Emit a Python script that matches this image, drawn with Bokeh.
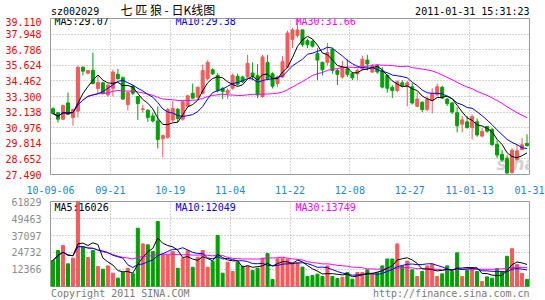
import numpy as np
import pandas as pd
from bokeh.plotting import figure
from bokeh.layouts import column
from bokeh.models import ColumnDataSource, Range1d, FixedTicker, Label, NumeralTickFormatter
from bokeh.embed import file_html
from bokeh.resources import INLINE

# ---------------- data ----------------
open_ = [32.38, 32.09, 31.61, 32.82, 31.73, 32.21, 35.48, 35.04, 35.24, 33.90,
         34.32, 33.42, 33.91, 34.95, 34.70, 32.70, 34.08, 33.30, 32.33, 32.28,
         31.85, 31.48, 30.15, 30.27, 31.55, 32.35, 31.61, 32.57, 33.54, 33.25,
         33.54, 34.63, 35.29, 34.87, 33.91, 33.54, 33.91, 34.80, 34.75, 34.75,
         35.05, 34.87, 33.30, 35.84, 34.99, 34.27, 34.75, 35.48, 37.54, 37.85,
         38.26, 37.46, 37.41, 36.49, 35.84, 35.84, 36.81, 35.24, 34.75, 35.36,
         35.00, 34.99, 35.36, 36.01, 35.12, 35.60, 35.20, 34.87, 33.98, 33.74,
         34.32, 34.03, 34.03, 32.57, 32.87, 32.33, 33.00, 33.42, 33.98, 33.11,
         32.82, 32.09, 31.24, 31.41, 31.00, 31.41, 30.35, 31.07, 30.84, 29.73,
         28.99, 28.70, 27.64, 28.61, 29.34, 29.80]
high = [32.50, 32.15, 32.70, 33.60, 32.40, 35.55, 35.55, 35.25, 36.57, 34.87,
        34.40, 34.20, 35.30, 35.36, 34.80, 33.65, 34.15, 33.35, 32.70, 32.35,
        32.09, 32.57, 30.45, 32.45, 32.95, 32.45, 33.00, 33.42, 34.27, 34.05,
        35.68, 36.00, 35.40, 35.05, 34.00, 33.90, 35.00, 35.00, 34.85, 36.40,
        35.84, 35.70, 36.40, 36.40, 35.10, 34.85, 36.30, 38.20, 38.40, 39.11,
        38.30, 37.60, 37.50, 36.90, 35.90, 37.29, 36.93, 35.36, 35.96, 36.08,
        35.12, 35.36, 36.33, 36.40, 35.72, 35.70, 35.48, 34.95, 34.15, 34.50,
        34.51, 34.45, 34.30, 33.66, 32.95, 33.30, 33.91, 34.27, 34.10, 33.20,
        32.90, 32.50, 31.85, 31.85, 31.97, 31.66, 30.95, 31.12, 30.95, 30.03,
        29.31, 28.94, 29.45, 29.68, 30.20, 30.49]
low = [31.95, 31.36, 31.55, 31.90, 31.12, 31.73, 34.87, 34.95, 34.20, 33.54,
       33.45, 33.30, 33.30, 34.55, 33.05, 32.26, 33.40, 31.56, 32.09, 31.41,
       31.36, 29.43, 28.77, 30.15, 31.40, 31.40, 31.50, 32.50, 33.10, 33.15,
       33.45, 34.50, 34.90, 33.60, 33.11, 33.11, 33.80, 34.10, 34.30, 34.70,
       34.51, 33.18, 33.20, 34.50, 33.90, 34.00, 34.70, 35.40, 36.90, 37.70,
       37.00, 36.90, 36.95, 34.50, 34.87, 35.60, 35.00, 34.15, 34.63, 34.75,
       34.51, 34.51, 35.24, 35.24, 35.05, 35.00, 33.90, 33.59, 33.18, 33.60,
       34.00, 32.57, 32.70, 32.50, 32.14, 32.20, 32.04, 33.35, 33.10, 32.60,
       32.00, 30.63, 30.63, 30.90, 30.10, 30.30, 30.25, 30.60, 29.60, 28.70,
       28.45, 27.54, 27.55, 28.50, 29.30, 29.55]
close = [32.04, 31.61, 32.62, 31.97, 32.33, 35.48, 35.19, 35.24, 34.27, 34.35,
         33.54, 34.15, 35.12, 34.63, 33.11, 33.59, 33.54, 32.77, 32.38, 31.73,
         31.48, 30.10, 30.40, 32.33, 32.40, 31.66, 32.90, 33.35, 33.18, 33.98,
         35.24, 35.84, 34.99, 33.74, 33.66, 33.74, 34.87, 34.22, 34.39, 35.77,
         34.80, 33.42, 36.25, 34.63, 34.07, 34.75, 35.89, 38.02, 38.26, 38.26,
         37.17, 37.17, 37.05, 36.01, 35.29, 36.57, 35.24, 34.95, 35.48, 34.95,
         34.70, 35.24, 36.08, 35.72, 35.53, 35.12, 34.00, 33.91, 33.74, 34.39,
         34.08, 34.32, 32.82, 33.11, 32.33, 33.11, 33.54, 34.03, 33.18, 32.77,
         32.14, 31.12, 31.56, 31.00, 31.80, 30.44, 30.70, 30.72, 29.73, 28.94,
         28.58, 27.60, 29.30, 29.25, 29.70, 29.65]
volume = [18900, 26200, 29800, 16500, 20600, 61800, 29100, 21100, 26200, 14500,
          12600, 15000, 9700, 6100, 10200, 13300, 9200, 42400, 31000, 30300,
          25500, 47300, 23000, 23000, 25500, 13300, 20600, 26200, 14000, 21300,
          26200, 14000, 18200, 37100, 9700, 17700, 10900, 17700, 14800, 14800,
          11600, 13300, 20600, 24000, 5100, 20100, 20600, 19900, 17500, 17500,
          14100, 7300, 8000, 9000, 7300, 15000, 7300, 5800, 6800, 10200,
          5300, 10200, 10200, 12100, 9700, 10200, 15000, 20000, 20000, 31000,
          15000, 18500, 12100, 7300, 10900, 15000, 16200, 7300, 9200, 15000,
          10900, 24500, 7300, 11600, 13800, 10900, 3600, 7000, 6000, 13000,
          10700, 22000, 27500, 16000, 9500, 5200]

price_ticks = [27.490, 28.652, 29.814, 30.976, 32.138, 33.300, 34.462, 35.624, 36.786, 37.948, 39.110]
volume_ticks = [12366, 24732, 37097, 49463, 61829]
date_labels = ["10-09-06", "09-21", "10-19", "11-04", "11-22", "12-08", "12-27", "11-01-13", "01-31"]

code_text = "sz002029"
title_text = "七 匹 狼 - 日K线图"
stamp_text = "2011-01-31 15:31:23"
price_ma_text = ["MA5:29.07", "MA10:29.38", "MA30:31.66"]
vol_ma_text = ["MA5:16026", "MA10:12049", "MA30:13749"]
copyright_text = "Copyright 2011 SINA.COM"
url_text = "http://finance.sina.com.cn"
watermark_text = "sina"

# ---------------- derived ----------------
RED = "#f65a5a"
GREEN = "#00a000"
n = len(close)
x = np.arange(n)
c = pd.Series(close)
v = pd.Series(volume, dtype=float)
colors = [RED if cl >= op else GREEN for op, cl in zip(open_, close)]
src = ColumnDataSource(dict(
    x=x, open=open_, high=high, low=low, close=close, vol=volume,
    top=np.maximum(open_, close), bottom=np.minimum(open_, close), color=colors,
    ma5=c.rolling(5, min_periods=1).mean(), ma10=c.rolling(10, min_periods=1).mean(),
    ma30=c.rolling(30, min_periods=1).mean(),
    vma5=v.rolling(5, min_periods=1).mean(), vma10=v.rolling(10, min_periods=1).mean(),
    vma30=v.rolling(30, min_periods=1).mean(),
))

per_label = n / (len(date_labels) - 1)
x_ticks = [-0.5 + per_label * i for i in range(len(date_labels))]

MONO = "DejaVu Sans Mono"
GRID = "#a8a8a8"
W = 545
LEFT, RIGHT = 50, 529   # frame edges in page pixels


def style(p):
    p.outline_line_color = "#9a9a9a"
    p.outline_line_width = 1
    p.background_fill_color = "white"
    p.border_fill_color = "white"
    for ax in (p.xaxis[0], p.yaxis[0]):
        ax.axis_line_color = None
        ax.major_tick_line_color = None
        ax.minor_tick_line_color = None
        ax.major_label_text_font = MONO
        ax.major_label_text_font_size = "10px"
    p.xgrid.ticker = FixedTicker(ticks=x_ticks)
    for g in (p.xgrid[0], p.ygrid[0]):
        g.grid_line_color = GRID
        g.grid_line_dash = "1 2"
        g.grid_line_width = 1


def label(p, txt, xx, yy, col, font=MONO, size="10px", align="left", units="screen", **kw):
    p.add_layout(Label(x=xx, y=yy, x_units=units, y_units=units, text=txt,
                       text_font=font, text_font_size=size, text_color=col,
                       text_baseline="middle", text_align=align, **kw))


def strip(h):
    # plain text strip; its frame spans the same columns as the charts, in page-pixel data units
    s = figure(width=W, height=h, output_backend="svg", toolbar_location=None,
               x_range=Range1d(LEFT, RIGHT), y_range=Range1d(0, h),
               x_axis_location=None, y_axis_location=None,
               min_border_left=LEFT, min_border_right=W - RIGHT, min_border_top=0, min_border_bottom=0)
    s.outline_line_color = None
    s.grid.visible = False
    s.background_fill_color = "white"
    s.border_fill_color = "white"
    return s


# ---------------- header strip ----------------
HH = 17
head = strip(HH)
label(head, code_text, 50.5, HH - 11, "#000000", units="data")
label(head, title_text, 120, 8, "#000000", font="Noto Sans CJK SC", size="12px", units="data")
label(head, stamp_text, 529, HH - 11, "#000000", align="right", units="data")

# ---------------- price figure ----------------
p1 = figure(width=W, height=179, output_backend="svg", toolbar_location=None,
            x_range=Range1d(-0.5, n - 0.5), y_range=Range1d(price_ticks[0], price_ticks[-1]),
            min_border_left=LEFT, min_border_right=W - RIGHT, min_border_top=1, min_border_bottom=19)
style(p1)
p1.xaxis.ticker = FixedTicker(ticks=x_ticks)
p1.xaxis.major_label_overrides = {t: lab for t, lab in zip(x_ticks, date_labels)}
p1.xaxis.major_label_text_color = "#1e88d6"
p1.xaxis.major_label_standoff = 5
p1.yaxis.ticker = FixedTicker(ticks=price_ticks)
p1.yaxis.formatter = NumeralTickFormatter(format="0.000")
p1.yaxis.major_label_text_color = "#ff0000"
p1.yaxis.major_label_standoff = 3

# faint logo watermark in the lower right corner of the price frame (screen units from frame bottom-left)
label(p1, watermark_text, 446, 11, "#d2d2d2", font="DejaVu Sans", size="17px",
      text_font_style="bold italic", level="underlay")

p1.segment(x0="x", x1="x", y0="low", y1="high", color="color", line_width=1, source=src)
p1.vbar(x="x", width=0.6, top="top", bottom="bottom", fill_color="color", line_color="color",
        line_width=1, source=src)
p1.line("x", "ma30", color="#ff00ff", line_width=1, source=src)
p1.line("x", "ma10", color="#0000ff", line_width=1, source=src)
p1.line("x", "ma5", color="#000000", line_width=1, source=src)

for txt, xx, col in zip(price_ma_text, [4, 125, 245], ["#000000", "#0000ff", "#ff00ff"]):
    label(p1, txt, xx, 153.5, col)

# ---------------- volume figure ----------------
p2 = figure(width=W, height=91, output_backend="svg", toolbar_location=None,
            x_range=p1.x_range, y_range=Range1d(0, volume_ticks[-1]),
            min_border_left=LEFT, min_border_right=W - RIGHT, min_border_top=5, min_border_bottom=1)
style(p2)
p2.xaxis.visible = False
p2.yaxis.ticker = FixedTicker(ticks=volume_ticks)
p2.yaxis.formatter = NumeralTickFormatter(format="0")
p2.yaxis.major_label_text_color = "#8c8c8c"
p2.yaxis.major_label_standoff = 3

p2.vbar(x="x", width=0.6, top="vol", bottom=0, fill_color="color", line_color="color",
        line_width=1, source=src)
p2.line("x", "vma30", color="#ff00ff", line_width=1, source=src)
p2.line("x", "vma10", color="#0000ff", line_width=1, source=src)
p2.line("x", "vma5", color="#000000", line_width=1, source=src)

for txt, xx, col in zip(vol_ma_text, [4, 125, 245], ["#000000", "#0000ff", "#ff00ff"]):
    label(p2, txt, xx, 79, col)

# ---------------- footer strip ----------------
FH = 13
foot = strip(FH)
label(foot, copyright_text, 50.5, FH - 5.5, "#7a7a7a", units="data")
label(foot, url_text, 529, FH - 5.5, "#7a7a7a", align="right", units="data")

layout = column(head, p1, p2, foot, spacing=0)
open("out.html", "w").write(file_html(layout, INLINE))
